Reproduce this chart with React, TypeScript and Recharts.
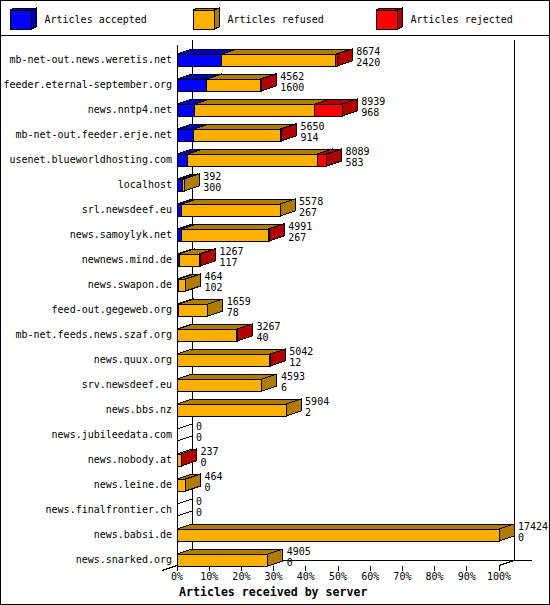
import React from 'react';
import { BarChart, Bar, XAxis, YAxis, Legend, Customized, LabelList } from 'recharts';

// ---------- data ----------
const servers = [
  'mb-net-out.news.weretis.net',
  'feeder.eternal-september.org',
  'news.nntp4.net',
  'mb-net-out.feeder.erje.net',
  'usenet.blueworldhosting.com',
  'localhost',
  'srl.newsdeef.eu',
  'news.samoylyk.net',
  'newnews.mind.de',
  'news.swapon.de',
  'feed-out.gegeweb.org',
  'mb-net.feeds.news.szaf.org',
  'news.quux.org',
  'srv.newsdeef.eu',
  'news.bbs.nz',
  'news.jubileedata.com',
  'news.nobody.at',
  'news.leine.de',
  'news.finalfrontier.ch',
  'news.babsi.de',
  'news.snarked.org',
];
const offered = [8674, 4562, 8939, 5650, 8089, 392, 5578, 4991, 1267, 464, 1659, 3267, 5042, 4593, 5904, 0, 237, 464, 0, 17424, 4905];
const accepted = [2420, 1600, 968, 914, 583, 300, 267, 267, 117, 102, 78, 40, 12, 6, 2, 0, 0, 0, 0, 0, 0];
const refused = [6174, 2902, 6491, 4671, 7016, 92, 5311, 4684, 1105, 362, 1581, 3202, 5010, 4587, 5902, 0, 217, 464, 0, 17424, 4905];
const rejected = [80, 60, 1480, 65, 490, 0, 0, 40, 45, 0, 0, 25, 20, 0, 0, 0, 20, 0, 0, 0, 0];

const tickLabels = ['0%', '10%', '20%', '30%', '40%', '50%', '60%', '70%', '80%', '90%', '100%'];
const seriesKeys = ['accepted', 'refused', 'rejected'];
const seriesNames = ['Articles accepted', 'Articles refused', 'Articles rejected'];
const axisTitle = 'Articles received by server';

// ---------- styling ----------
const FRONT = ['#0000FF', '#FFB000', '#FF0000'];
const DARK = ['#0000B0', '#B07C00', '#B00000'];
const MONO = '"DejaVu Sans Mono", "Liberation Mono", monospace';

const W = 550;
const H = 605;
const LEGEND_H = 36;
const PLOT_TOP = 47;
const PLOT_LEFT = 177;
const PLOT_RIGHT = 499;
const ROW = 25;
const PLOT_H = ROW * servers.length;
const BAR = 12;
const DX = 15;
const DY = 5;
const FLOOR_FRONT = PLOT_TOP + PLOT_H - (ROW - BAR) / 2; // bottom of last bar front
const FLOOR_BACK = FLOOR_FRONT - DY;
const WALL_TOP = PLOT_TOP - 7;

const maxTotal = Math.max(...offered);
const tickValues = tickLabels.map((_, i) => (maxTotal * i) / (tickLabels.length - 1));

const data = servers.map((name, i) => ({
  name,
  accepted: accepted[i],
  refused: refused[i],
  rejected: rejected[i],
  offered: offered[i],
}));

function box(x: number, y: number, w: number, h: number, front: string, dark: string) {
  return (
    <g shapeRendering="crispEdges">
      <polygon
        points={`${x},${y} ${x + DX},${y - DY} ${x + w + DX},${y - DY} ${x + w},${y}`}
        fill={dark}
        stroke="#000"
        strokeWidth={1}
      />
      <polygon
        points={`${x + w},${y} ${x + w + DX},${y - DY} ${x + w + DX},${y + h - DY} ${x + w},${y + h}`}
        fill={dark}
        stroke="#000"
        strokeWidth={1}
      />
      <rect x={x} y={y} width={w} height={h} fill={front} stroke="#000" strokeWidth={1} />
    </g>
  );
}

const makeShape = (si: number) => (props: any) => {
  const { x, y, width, height, payload } = props;
  const key = seriesKeys[si];
  if (si === 0 && payload && payload.offered === 0) {
    return (
      <g shapeRendering="crispEdges">
        <line x1={x} y1={y} x2={x + DX} y2={y - DY} stroke="#000" />
        <line x1={x} y1={y + height} x2={x + DX} y2={y + height - DY} stroke="#000" />
      </g>
    );
  }
  if (!payload || !payload[key] || !(width > 0)) return <g />;
  return box(x, y, width, height, FRONT[si], DARK[si]);
};

const TotalLabel = (props: any) => {
  const vb = props.viewBox || props;
  let i = servers.indexOf(props.value);
  if (i < 0 && typeof props.index === 'number') i = props.index;
  if (i < 0) return null;
  const endX = vb.x + (vb.width || 0);
  const cy = vb.y + (vb.height || 0) / 2;
  const tx = endX + DX + 4;
  return (
    <g fontFamily={MONO} fontSize={10} fill="#000">
      <text x={tx} y={cy - 5.2}>{offered[i]}</text>
      <text x={tx} y={cy + 5.8}>{accepted[i]}</text>
    </g>
  );
};

const YTick = (props: any) => {
  const { y, payload } = props;
  return (
    <text x={PLOT_LEFT - 5} y={y + 3.5} textAnchor="end" fontFamily={MONO} fontSize={10} fill="#000">
      {payload.value}
    </text>
  );
};

const XTick = (props: any) => {
  const { x, payload } = props;
  let i = tickValues.findIndex((v) => Math.abs(v - payload.value) < 1e-6);
  if (i < 0) i = props.index;
  return (
    <g>
      <line x1={x} y1={FLOOR_FRONT} x2={x} y2={FLOOR_FRONT + 5} stroke="#000" shapeRendering="crispEdges" />
      <text x={x} y={FLOOR_FRONT + 14.5} textAnchor="middle" fontFamily={MONO} fontSize={10} fill="#000">
        {tickLabels[i]}
      </text>
    </g>
  );
};

const XTitle = () => (
  <text x={179} y={596} fontFamily={MONO} fontSize={11.6} fontWeight="bold" fill="#000">
    {axisTitle}
  </text>
);

const Decor = () => (
  <g shapeRendering="crispEdges" stroke="#000" strokeWidth={1} fill="none">
    <rect x={0.5} y={0.5} width={W - 1} height={H - 1} />
    <line x1={0} y1={35.5} x2={W} y2={35.5} />
    <line x1={PLOT_LEFT + DX} y1={WALL_TOP} x2={PLOT_LEFT + DX} y2={FLOOR_BACK} />
    <line x1={PLOT_RIGHT + DX} y1={WALL_TOP} x2={PLOT_RIGHT + DX} y2={FLOOR_BACK} />
    <line x1={PLOT_LEFT + DX} y1={FLOOR_BACK} x2={PLOT_RIGHT + DX + 18} y2={FLOOR_BACK} />
    <line x1={PLOT_LEFT} y1={WALL_TOP + DY} x2={PLOT_LEFT} y2={FLOOR_FRONT} />
    <line x1={PLOT_LEFT - DX} y1={FLOOR_FRONT + DY} x2={PLOT_LEFT} y2={FLOOR_FRONT} />
    <line x1={PLOT_RIGHT} y1={FLOOR_FRONT} x2={PLOT_RIGHT + DX} y2={FLOOR_BACK} />
  </g>
);

const LegendContent = () => (
  <svg width={W} height={LEGEND_H} style={{ display: 'block' }}>
    {seriesNames.map((n, i) => {
      const bx = 10 + 183 * i;
      const by = 10;
      const bw = 21;
      const bh = 19;
      const dx = 5;
      const dy = 2;
      return (
        <g key={n}>
          <g shapeRendering="crispEdges" stroke="#000" strokeWidth={1}>
            <polygon
              points={`${bx},${by} ${bx + dx},${by - dy} ${bx + bw + dx},${by - dy} ${bx + bw},${by}`}
              fill={DARK[i]}
            />
            <polygon
              points={`${bx + bw},${by} ${bx + bw + dx},${by - dy} ${bx + bw + dx},${by + bh - dy} ${bx + bw},${by + bh}`}
              fill={DARK[i]}
            />
            <rect x={bx} y={by} width={bw} height={bh} fill={FRONT[i]} />
          </g>
          <text x={bx + 34.5} y={23} fontFamily={MONO} fontSize={10} fill="#000">
            {n}
          </text>
        </g>
      );
    })}
  </svg>
);

export default function App() {
  return (
    <div style={{ position: 'absolute', left: 0, top: 0, width: W, height: H, background: '#fff' }}>
      <BarChart
        width={W}
        height={H}
        data={data}
        layout="vertical"
        barCategoryGap={ROW - BAR}
        margin={{ top: PLOT_TOP - LEGEND_H, right: W - PLOT_RIGHT, bottom: 0, left: 0 }}
      >
        <Customized component={Decor} />
        <Legend
          verticalAlign="top"
          align="left"
          content={LegendContent}
          wrapperStyle={{ top: 0, left: 0, width: W, height: LEGEND_H }}
        />
        <XAxis
          type="number"
          domain={[0, maxTotal]}
          ticks={tickValues}
          interval={0}
          height={H - PLOT_TOP - PLOT_H}
          axisLine={false}
          tickLine={false}
          tick={<XTick />}
          label={{ content: XTitle }}
        />
        <YAxis
          type="category"
          dataKey="name"
          width={PLOT_LEFT}
          axisLine={false}
          tickLine={false}
          interval={0}
          tick={<YTick />}
        />
        {seriesKeys.map((k, si) => (
          <Bar
            key={k}
            dataKey={k}
            name={seriesNames[si]}
            stackId="a"
            fill={FRONT[si]}
            barSize={BAR}
            isAnimationActive={false}
            shape={makeShape(si)}
          >
            {si === seriesKeys.length - 1 ? <LabelList dataKey="name" content={TotalLabel} /> : null}
          </Bar>
        ))}
      </BarChart>
    </div>
  );
}
